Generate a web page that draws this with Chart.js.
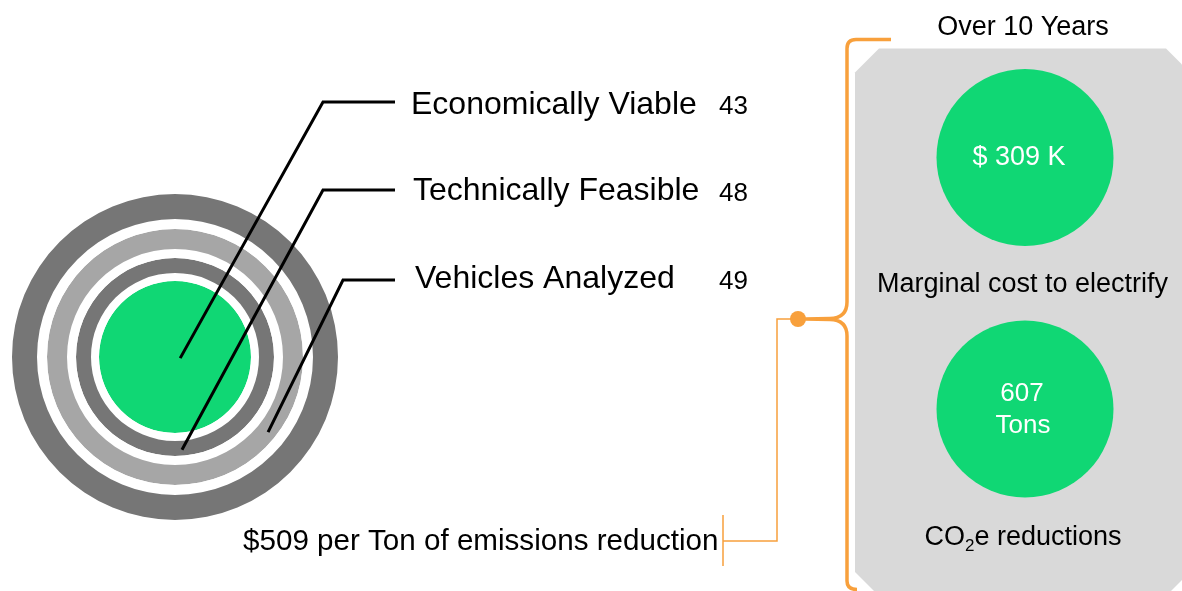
<!DOCTYPE html>
<html>
<head>
    <title>Fleet Electrification Summary</title>
    <script src="https://cdn.jsdelivr.net/npm/chart.js"></script>
    <style>
        body { margin: 0; background: #ffffff; }
        canvas { display: block; }
    </style>
</head>
<body>
    <canvas id="fleetChart" width="1182" height="591"></canvas>
    <script>
        // Vehicle funnel: innermost ring first
        const stageLabels = ['Economically Viable', 'Technically Feasible', 'Vehicles Analyzed'];
        const stageCounts = [43, 48, 49];

        // Ten year outcomes
        const horizonYears = 10;
        const marginalCostK = 309;
        const co2eTons = 607;
        const costPerTon = 509;
        const outcomeLabels = ['Marginal cost to electrify', 'reductions'];

        const GREEN = '#10d774';
        const DARK = '#767676';
        const LIGHT = '#a6a6a6';
        const ORANGE = '#f8a03c';
        const PANEL = '#d9d9d9';
        const FONT = '"Liberation Sans", Arial, sans-serif';

        // dataset index in the doughnut for each stage
        const stageRing = [6, 4, 2];
        // where each leader line touches its ring: angle (deg) and position across ring width
        const leaderHit = [
            { angle: 12, across: 0.07 },
            { angle: 85.7, across: 0.6 },
            { angle: 38.9, across: 0.58 }
        ];
        // elbow and end of each leader, then label and count anchors
        const leaderElbow = [[323, 102], [323, 190], [343, 280]];
        const leaderEnd = 395;
        const labelPos = [[411, 114], [413, 200], [415, 288]];
        const countX = 719;
        const countY = [114, 201, 289];

        function ring(value, color, weight, label) {
            return {
                label: label,
                data: [value],
                backgroundColor: color,
                borderWidth: 0,
                hoverOffset: 0,
                weight: weight
            };
        }

        // everything around the rings: leaders, labels, bracket and the outcome panel
        const annotations = {
            id: 'annotations',
            afterDraw(chart) {
                const ctx = chart.ctx;
                ctx.save();

                // leader lines from each ring out to its label
                ctx.strokeStyle = '#000';
                ctx.lineWidth = 3;
                ctx.lineJoin = 'miter';
                stageLabels.forEach(function(label, i) {
                    const arc = chart.getDatasetMeta(stageRing[i]).data[0];
                    const p = arc.getProps(['x', 'y', 'innerRadius', 'outerRadius'], true);
                    const r = p.innerRadius + (p.outerRadius - p.innerRadius) * leaderHit[i].across;
                    const a = leaderHit[i].angle * Math.PI / 180;
                    ctx.beginPath();
                    ctx.moveTo(p.x + r * Math.cos(a), p.y + r * Math.sin(a));
                    ctx.lineTo(leaderElbow[i][0], leaderElbow[i][1]);
                    ctx.lineTo(leaderEnd, leaderElbow[i][1]);
                    ctx.stroke();

                    ctx.fillStyle = '#000';
                    ctx.textAlign = 'left';
                    ctx.textBaseline = 'alphabetic';
                    ctx.font = '32px ' + FONT;
                    ctx.fillText(label, labelPos[i][0], labelPos[i][1]);
                    ctx.font = '26px ' + FONT;
                    ctx.fillText(String(stageCounts[i]), countX, countY[i]);
                });

                // cost per ton note
                ctx.font = '29.6px ' + FONT;
                ctx.fillText('$' + costPerTon + ' per Ton of emissions reduction', 243, 550);

                // grey outcome panel with clipped corners
                const px0 = 855, px1 = 1190, py0 = 48.5, py1 = 596, cut = 24;
                ctx.fillStyle = PANEL;
                ctx.beginPath();
                ctx.moveTo(px0 + cut, py0);
                ctx.lineTo(px1 - cut, py0);
                ctx.lineTo(px1, py0 + cut);
                ctx.lineTo(px1, py1 - cut);
                ctx.lineTo(px1 - cut, py1);
                ctx.lineTo(px0 + cut, py1);
                ctx.lineTo(px0, py1 - cut);
                ctx.lineTo(px0, py0 + cut);
                ctx.closePath();
                ctx.fill();

                // thin connector from the note to the bracket
                ctx.strokeStyle = ORANGE;
                ctx.lineWidth = 1.5;
                ctx.beginPath();
                ctx.moveTo(798, 319);
                ctx.lineTo(777, 319);
                ctx.lineTo(777, 541);
                ctx.lineTo(723, 541);
                ctx.moveTo(723, 515);
                ctx.lineTo(723, 566);
                ctx.stroke();

                // curly bracket
                ctx.lineWidth = 3.5;
                ctx.lineCap = 'butt';
                ctx.beginPath();
                ctx.moveTo(891, 39.5);
                ctx.lineTo(856, 39.5);
                ctx.quadraticCurveTo(847, 39.5, 847, 48.5);
                ctx.lineTo(847, 302);
                ctx.quadraticCurveTo(847, 318, 830, 318.5);
                ctx.lineTo(805, 319);
                ctx.moveTo(805, 319);
                ctx.lineTo(830, 319.5);
                ctx.quadraticCurveTo(847, 320, 847, 336);
                ctx.lineTo(847, 581);
                ctx.quadraticCurveTo(847, 589.5, 857, 589.5);
                ctx.stroke();
                ctx.fillStyle = ORANGE;
                ctx.beginPath();
                ctx.arc(798, 319, 8, 0, Math.PI * 2);
                ctx.fill();

                // outcome badges
                ctx.fillStyle = GREEN;
                [157.5, 409].forEach(function(cy) {
                    ctx.beginPath();
                    ctx.arc(1025, cy, 88.5, 0, Math.PI * 2);
                    ctx.fill();
                });
                ctx.fillStyle = '#fff';
                ctx.textAlign = 'center';
                ctx.font = '27px ' + FONT;
                ctx.fillText('$ ' + marginalCostK + ' K', 1019, 165);
                ctx.font = '26px ' + FONT;
                ctx.fillText(String(co2eTons), 1022, 401);
                ctx.fillText('Tons', 1023, 433);

                ctx.fillStyle = '#000';
                ctx.font = '27px ' + FONT;
                ctx.fillText('Over ' + horizonYears + ' Years', 1023, 35);
                ctx.fillText(outcomeLabels[0], 1022.5, 291.5);

                // CO2e with a subscript 2
                ctx.textAlign = 'left';
                const big = '27px ' + FONT, small = '17px ' + FONT;
                ctx.font = big;
                const wCO = ctx.measureText('CO').width;
                const wRest = ctx.measureText('e ' + outcomeLabels[1]).width;
                ctx.font = small;
                const wSub = ctx.measureText('2').width;
                let x = 1023 - (wCO + wSub + wRest) / 2;
                ctx.font = big;
                ctx.fillText('CO', x, 545);
                x += wCO;
                ctx.font = small;
                ctx.fillText('2', x, 551);
                x += wSub;
                ctx.font = big;
                ctx.fillText('e ' + outcomeLabels[1], x, 545);

                ctx.restore();
            }
        };

        const ctx = document.getElementById('fleetChart').getContext('2d');
        new Chart(ctx, {
            type: 'doughnut',
            data: {
                labels: ['count'],
                datasets: [
                    ring(1, DARK, 25, 'Fleet'),
                    ring(1, '#ffffff', 10, ''),
                    ring(stageCounts[2], LIGHT, 20, stageLabels[2]),
                    ring(1, '#ffffff', 9, ''),
                    ring(stageCounts[1], DARK, 15, stageLabels[1]),
                    ring(1, '#ffffff', 8, ''),
                    ring(stageCounts[0], GREEN, 76, stageLabels[0])
                ]
            },
            options: {
                responsive: false,
                animation: false,
                events: [],
                cutout: 0,
                layout: {
                    padding: { left: 12, top: 194, right: 844, bottom: 71 }
                },
                plugins: {
                    legend: { display: false },
                    tooltip: { enabled: false }
                }
            },
            plugins: [annotations]
        });
    </script>
</body>
</html>
